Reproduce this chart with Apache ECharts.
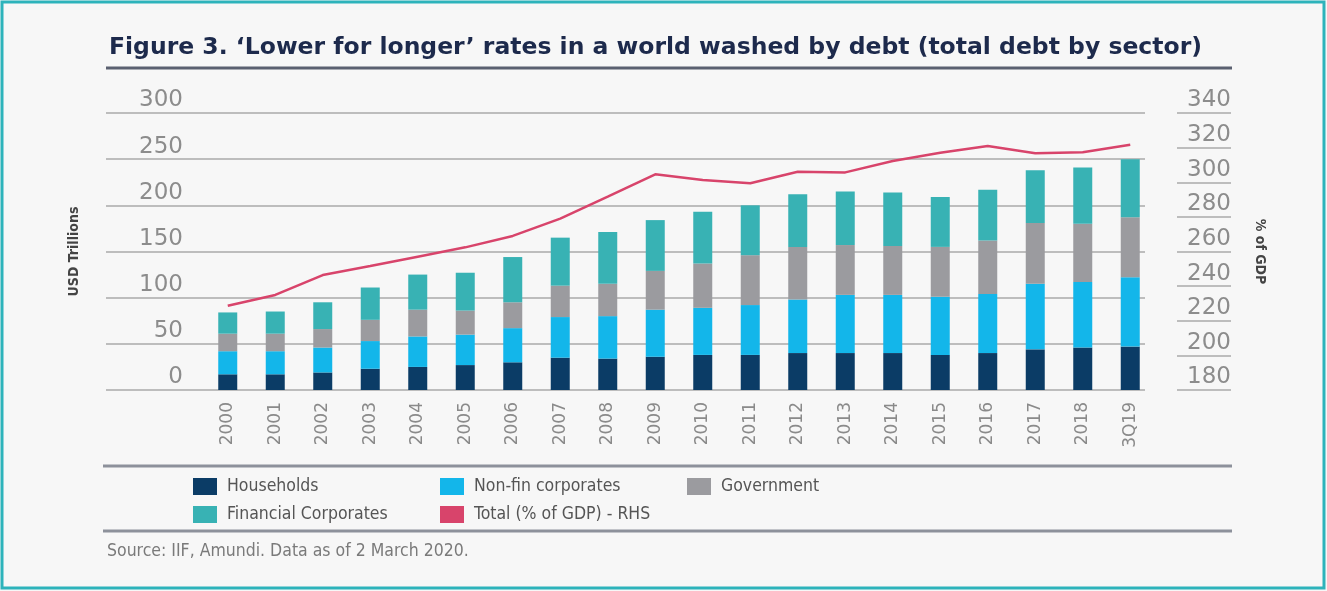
<!DOCTYPE html>
<html>
<head>
<meta charset="utf-8">
<style>
  html, body { margin: 0; padding: 0; background: #ffffff; }
  #chart { width: 1327px; height: 591px; }
</style>
</head>
<body>
<div id="chart"></div>
<script src="https://cdn.jsdelivr.net/npm/echarts@6/dist/echarts.min.js"></script>
<script>
// categories on the x axis
const categories = ['2000', '2001', '2002', '2003', '2004', '2005', '2006', '2007', '2008', '2009',
  '2010', '2011', '2012', '2013', '2014', '2015', '2016', '2017', '2018', '3Q19'];

// debt by sector, USD trillions
const households = [17, 17, 19, 23, 25, 27, 30, 35, 34, 36, 38, 38, 40, 40, 40, 38, 40, 44, 46, 47];
const nonFinCorporates = [25, 25, 27, 30, 33, 33, 37, 44, 46, 51, 51, 54, 58, 63, 63, 63, 64, 71, 71, 75];
const government = [19, 19, 20, 23, 29, 26, 28, 34, 35, 42, 48, 54, 57, 54, 53, 54, 58, 66, 63, 65];
const financialCorporates = [23, 24, 29, 35, 38, 41, 49, 52, 56, 55, 56, 54, 57, 58, 58, 54, 55, 57, 61, 63];

// total debt, % of GDP (right hand scale)
const totalPctGdp = [228.7, 234.9, 246.4, 251.6, 257, 262.4, 269, 279, 291.7, 304.6,
  301.3, 299.4, 306.1, 305.7, 312.3, 317, 321, 316.7, 317.3, 321.7];

// tick labels
const leftTicks = [0, 50, 100, 150, 200, 250, 300];
const rightTicks = [180, 200, 220, 240, 260, 280, 300, 320, 340];

const colors = {
  households: '#0b3c66',
  nonFin: '#13b6ea',
  government: '#9b9b9f',
  financial: '#38b2b4',
  total: '#d8446b'
};

const chart = echarts.init(document.getElementById('chart'));

const gridTop = 113;
const gridBottom = 201;
const tickFont = 'DejaVu Sans';

function barSeries(name, data, color) {
  return {
    name: name,
    type: 'bar',
    stack: 'debt',
    xAxisIndex: 0,
    yAxisIndex: 0,
    barWidth: 19,
    itemStyle: { color: color },
    data: data
  };
}

const option = {
  backgroundColor: '#f7f7f7',
  animation: false,
  title: [{
    text: 'Figure 3. \u2018Lower for longer\u2019 rates in a world washed by debt (total debt by sector)',
    left: 104,
    top: 31,
    textStyle: { fontFamily: 'DejaVu Sans', fontWeight: 'bold', fontSize: 23.5, color: '#1d2a4c' }
  }, {
    text: 'Source: IIF, Amundi. Data as of 2 March 2020.',
    left: 102,
    top: 537,
    textStyle: { fontFamily: 'DejaVu Sans Condensed', fontWeight: 'normal', fontSize: 17.5, color: '#7a7a7a' }
  }],
  legend: {
    left: 193,
    top: 475,
    width: 760,
    padding: 0,
    itemGap: 5,
    itemWidth: 24,
    itemHeight: 17,
    icon: 'rect',
    textStyle: {
      fontFamily: 'DejaVu Sans Condensed',
      fontSize: 17.5,
      color: '#555555',
      width: 208,
      lineHeight: 23,
      overflow: 'truncate',
      padding: [0, 0, 0, 5]
    },
    data: ['Households', 'Non-fin corporates', 'Government', 'Financial Corporates', 'Total (% of GDP) - RHS']
  },
  grid: [
    { left: 204, right: 173, top: gridTop, bottom: gridBottom, outerBoundsMode: 'none' },
    { left: 106, right: 182, top: gridTop, bottom: gridBottom, outerBoundsMode: 'none' },
    { left: 1177, right: 96, top: gridTop, bottom: gridBottom, outerBoundsMode: 'none' }
  ],
  xAxis: [{
    type: 'category',
    gridIndex: 0,
    data: categories,
    axisLine: { show: false },
    axisTick: { show: false },
    axisLabel: {
      rotate: 90,
      margin: 12,
      interval: 0,
      fontFamily: tickFont,
      fontSize: 17,
      color: '#8a8a8a'
    }
  }, {
    type: 'value', gridIndex: 1, show: false
  }, {
    type: 'value', gridIndex: 2, show: false
  }],
  yAxis: [{
    // bars scale (hidden, same as left ticks)
    type: 'value', gridIndex: 0,
    min: leftTicks[0], max: leftTicks[leftTicks.length - 1], interval: leftTicks[1] - leftTicks[0],
    show: false
  }, {
    // line scale (hidden, same as right ticks)
    type: 'value', gridIndex: 0,
    min: rightTicks[0], max: rightTicks[rightTicks.length - 1], interval: rightTicks[1] - rightTicks[0],
    show: false
  }, {
    // left axis labels + long gridlines
    type: 'value', gridIndex: 1, position: 'left', offset: -79,
    min: leftTicks[0], max: leftTicks[leftTicks.length - 1], interval: leftTicks[1] - leftTicks[0],
    name: 'USD Trillions',
    nameLocation: 'middle',
    nameRotate: 90,
    nameGap: 104,
    nameTextStyle: { fontFamily: 'DejaVu Sans Condensed', fontWeight: 'bold', fontSize: 14, color: '#444444' },
    axisLine: { show: false },
    axisTick: { show: false },
    axisLabel: {
      margin: 2,
      fontFamily: tickFont,
      fontSize: 23,
      color: '#8c8c8c',
      verticalAlign: 'bottom',
      lineHeight: 23,
      padding: [0, 0, 1, 0]
    },
    splitLine: { show: true, lineStyle: { color: '#aaaaaa', width: 1.5 } }
  }, {
    // right axis labels + short underlines
    type: 'value', gridIndex: 2, position: 'right',
    min: rightTicks[0], max: rightTicks[rightTicks.length - 1], interval: rightTicks[1] - rightTicks[0],
    name: '% of GDP',
    nameLocation: 'middle',
    nameRotate: -90,
    nameGap: 22,
    nameTextStyle: { fontFamily: 'DejaVu Sans Condensed', fontWeight: 'bold', fontSize: 14, color: '#444444' },
    axisLine: { show: false },
    axisTick: { show: false },
    axisLabel: {
      inside: true,
      margin: 0,
      align: 'right',
      fontFamily: tickFont,
      fontSize: 23,
      color: '#8c8c8c',
      verticalAlign: 'bottom',
      lineHeight: 23,
      padding: [0, 0, 1, 0]
    },
    splitLine: { show: true, lineStyle: { color: '#aaaaaa', width: 1.5 } }
  }],
  series: [
    barSeries('Households', households, colors.households),
    barSeries('Non-fin corporates', nonFinCorporates, colors.nonFin),
    barSeries('Government', government, colors.government),
    barSeries('Financial Corporates', financialCorporates, colors.financial),
    {
      name: 'Total (% of GDP) - RHS',
      type: 'line',
      xAxisIndex: 0,
      yAxisIndex: 1,
      symbol: 'none',
      itemStyle: { color: colors.total },
      lineStyle: { color: colors.total, width: 2.5 },
      z: 5,
      data: totalPctGdp
    }
  ],
  graphic: [
    // teal frame
    { type: 'rect', shape: { x: 2, y: 2, width: 1322, height: 586 }, style: { fill: 'none', stroke: '#2db3bb', lineWidth: 3 }, silent: true },
    // title underline
    { type: 'line', shape: { x1: 106, y1: 68, x2: 1232, y2: 68 }, style: { stroke: '#5a6070', lineWidth: 3 }, silent: true },
    // legend rules
    { type: 'line', shape: { x1: 103, y1: 466, x2: 1232, y2: 466 }, style: { stroke: '#8d919b', lineWidth: 3 }, silent: true },
    { type: 'line', shape: { x1: 103, y1: 531, x2: 1232, y2: 531 }, style: { stroke: '#8d919b', lineWidth: 3 }, silent: true }
  ]
};

chart.setOption(option);
</script>
</body>
</html>
